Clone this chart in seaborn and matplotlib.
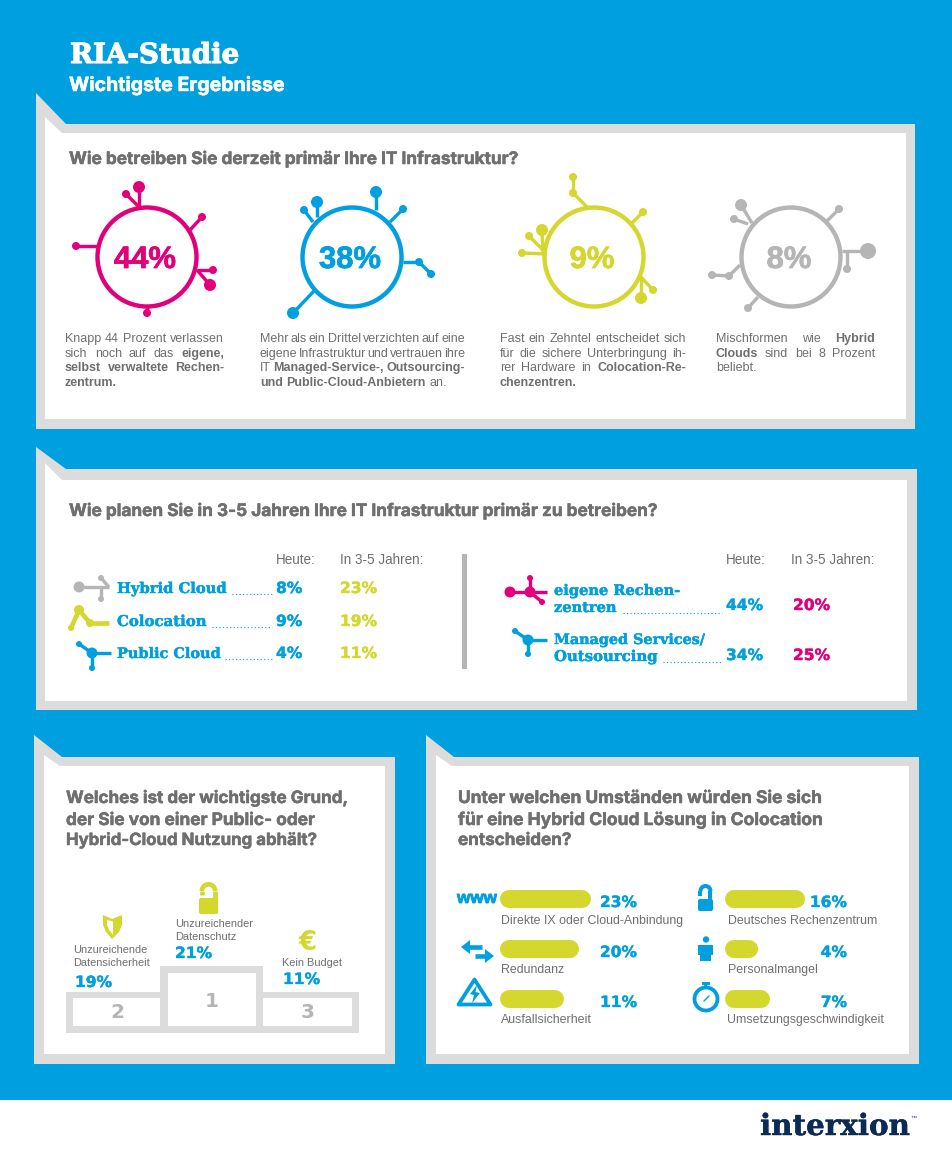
import matplotlib
matplotlib.use('Agg')
import matplotlib.pyplot as plt
import matplotlib.patheffects as pe
from matplotlib.patches import Polygon, Rectangle, Circle, Arc, FancyBboxPatch
import pandas as pd
import seaborn as sns

BLUE = '#009fe0'
FRAME = '#dcdcdc'
TEXT = '#6f6f6f'
PINK = '#e2007a'
LIME = '#d4d72e'
GREY = '#b5b5b5'
NAVY = '#0b2a55'

SANS = 'Liberation Sans'
HEAD = 'Inter'
SLAB = 'DejaVu Serif'
WIDE = 'DejaVu Sans'

# panel 1: share per operating model
ring_values = ['44%', '38%', '9%', '8%']
ring_colors = [PINK, BLUE, LIME, GREY]
# a leading * marks a bold word
ring_texts = [
    ['Knapp 44 Prozent verlassen', 'sich noch auf das *eigene,', '*selbst *verwaltete *Rechen-', '*zentrum.'],
    ['Mehr als ein Drittel verzichten auf eine', 'eigene Infrastruktur und vertrauen ihre',
     'IT *Managed-Service-, *Outsourcing-', '*und *Public-Cloud-Anbietern an.'],
    ['Fast ein Zehntel entscheidet sich', 'für die sichere Unterbringung ih-',
     'rer Hardware in *Colocation-Re-', '*chenzentren.'],
    ['Mischformen wie *Hybrid', '*Clouds sind bei 8 Prozent', 'beliebt.'],
]

# panel 2: today vs. in 3-5 years
left_rows = ['Hybrid Cloud', 'Colocation', 'Public Cloud']
left_today = ['8%', '9%', '4%']
left_future = ['23%', '19%', '11%']
right_rows = [['eigene Rechen-', 'zentren'], ['Managed Services/', 'Outsourcing']]
right_today = ['44%', '34%']
right_future = ['20%', '25%']

# panel 3: podium
podium_places = ['2', '1', '3']
podium_labels = [['Unzureichende', 'Datensicherheit'], ['Unzureichender', 'Datenschutz'], ['Kein Budget']]
podium_values = ['19%', '21%', '11%']

# panel 4: bars, lengths as drawn in the picture
bar_labels = ['Direkte IX oder Cloud-Anbindung', 'Redundanz', 'Ausfallsicherheit',
              'Deutsches Rechenzentrum', 'Personalmangel', 'Umsetzungsgeschwindigkeit']
bar_percent = ['23%', '20%', '11%', '16%', '4%', '7%']
bar_lengths = [91, 79, 64, 80, 33, 45]

sns.set_theme(style='white')
plt.rcParams['font.family'] = [SANS, 'DejaVu Sans']

fig = plt.figure(figsize=(9.53, 11.57), dpi=100)
ax = fig.add_axes([0, 0, 1, 1])
ax.set_xlim(0, 953)
ax.set_ylim(1157, 0)
ax.set_axis_off()
renderer = fig.canvas.get_renderer()


def pts(px):
    return px * 0.72


def label(x, y, s, size, color=TEXT, family=SANS, weight='normal', ha='left', width=None, heavy=0):
    t = ax.text(x, y, s, fontsize=pts(size), color=color, family=family, weight=weight,
                ha=ha, va='baseline', zorder=10)
    if width is not None:
        t.set_fontsize(t.get_fontsize() * width / t.get_window_extent(renderer).width)
    if heavy:
        t.set_path_effects([pe.withStroke(linewidth=heavy, foreground=color)])
    return t


def paragraph(x, y, lines, width, size=12.5, leading=14.6):
    for i, line in enumerate(lines):
        items = []
        for w in line.split(' '):
            bold = w.startswith('*')
            items.append(label(x, y + i * leading, w.lstrip('*'), size,
                               weight='bold' if bold else 'normal'))
        widths = [t.get_window_extent(renderer).width for t in items]
        gap = 3.4
        if i < len(lines) - 1 and len(items) > 1:
            gap = (width - sum(widths)) / (len(items) - 1)
        cx = x
        for t, w in zip(items, widths):
            t.set_x(cx)
            cx += w + gap


def panel(tip_x, tip_y, notch_x, notch_y, right, bottom, in_left, in_tip, in_nx, in_ny, in_right, in_bottom):
    ax.add_patch(Polygon([(tip_x, tip_y), (notch_x, notch_y), (right, notch_y), (right, bottom), (tip_x, bottom)],
                         color=FRAME, lw=0, zorder=1))
    ax.add_patch(Polygon([(in_left, in_tip), (in_nx, in_ny), (in_right, in_ny), (in_right, in_bottom), (in_left, in_bottom)],
                         color='white', lw=0, zorder=2))


def branches(segs, color, lw=3.4):
    # every segment: x0, y0, x1, y1, radius of the node at its end
    for x0, y0, x1, y1, r in segs:
        ax.plot([x0, x1], [y0, y1], color=color, lw=pts(lw), solid_capstyle='butt', zorder=4)
        if r:
            ax.add_patch(Circle((x1, y1), r, color=color, lw=0, zorder=5))


def leader(x0, x1, y):
    ax.plot([x0, x1], [y, y], color=BLUE, lw=pts(1.1), ls=(0, (1, 2.2)), zorder=4)


def lock(x, y, w, h, top, color, stroke):
    ax.add_patch(FancyBboxPatch((x + 2, y + 2), w - 4, h - 4, boxstyle='round,pad=2', color=color, lw=0, zorder=5))
    cx = x + w / 2
    rad = w / 2 - stroke / 2 - 0.5
    ax.add_patch(Arc((cx, top + rad + stroke / 2), 2 * rad, 2 * rad, theta1=180, theta2=360, color=color,
                     lw=pts(stroke), zorder=5))
    ax.plot([cx + rad, cx + rad], [top + rad + stroke / 2, y + 1], color=color, lw=pts(stroke), solid_capstyle='butt', zorder=5)
    ax.plot([cx - rad, cx - rad], [top + rad + stroke / 2, y - 3.5], color=color, lw=pts(stroke), solid_capstyle='butt', zorder=5)


# background
ax.add_patch(Rectangle((0, 0), 953, 1100, color=BLUE, lw=0, zorder=0))
ax.add_patch(Rectangle((0, 1100), 953, 57, color='white', lw=0, zorder=0))
ax.add_patch(Rectangle((952, 0), 1, 1157, color='#c8c8c8', lw=0, zorder=0.5))

label(70, 63, 'RIA-Studie', 30, color='white', family=SLAB, weight='bold', width=169, heavy=0.8)
label(69, 91, 'Wichtigste Ergebnisse', 18, color='white', family=HEAD, weight='bold', width=216, heavy=0.35)

panel(36, 93, 66, 124, 915, 429, 45, 117, 62, 133, 906, 419)
panel(36, 447, 66, 469, 917, 710, 45, 463, 62, 480, 907, 701)
panel(34, 735, 62, 757, 395, 1064, 44, 755, 60, 766, 385, 1054)
panel(426, 735, 454, 757, 919, 1064, 436, 755, 452, 766, 909, 1054)

# panel 1
label(69, 164, 'Wie betreiben Sie derzeit primär Ihre IT Infrastruktur?', 17, family=HEAD, weight='bold', width=447, heavy=0.35)

ring_x = [147, 352, 594, 791]
ring_branches = [
    [(139, 207, 139, 187, 6), (139, 207, 126, 194, 4), (190, 230, 202, 217, 4), (98, 246, 76, 246, 4),
     (197, 270, 213, 270, 4), (197, 270, 210, 285, 6), (147, 306, 147, 313, 4)],
    [(376, 210, 376, 192, 6), (317, 217, 317, 202, 6), (313, 222, 304, 210, 4), (390, 222, 403, 209, 4),
     (403, 262, 419, 262, 4), (419, 262, 431, 274, 4), (315, 290, 293, 313, 6)],
    [(587, 207, 573, 193, 4), (573, 193, 573, 177, 4), (632, 223, 643, 212, 4), (547, 254, 522, 253, 4),
     (543, 252, 542, 230, 6), (543, 250, 529, 236, 4), (641, 277, 641, 298, 6), (641, 277, 653, 290, 4)],
    [(752, 223, 741, 205, 6), (748, 224, 734, 219, 4), (827, 221, 839, 209, 4), (842, 251, 868, 251, 8),
     (847, 251, 847, 269, 4), (740, 265, 729, 276, 4), (729, 276, 712, 275, 4), (758, 297, 748, 308, 4)],
]
para_x = [65, 260, 500, 716]
para_w = [159, 205, 186, 159]

for i, cx in enumerate(ring_x):
    col = ring_colors[i]
    ax.add_patch(Circle((cx, 257), 49.5, fill=False, edgecolor=col, lw=pts(4.4), zorder=6))
    branches(ring_branches[i], col)
    label(cx - 2, 268, ring_values[i], 31, color=col, weight='bold', ha='center', heavy=0.5)
    paragraph(para_x[i], 342, ring_texts[i], para_w[i])

# panel 2
label(69, 516, 'Wie planen Sie in 3-5 Jahren Ihre IT Infrastruktur primär zu betreiben?', 17, family=HEAD, weight='bold', width=586, heavy=0.35)
ax.add_patch(Rectangle((462, 554), 5.5, 115, color=GREY, lw=0, zorder=3))
for x_h, x_f in [(276, 340), (726, 791)]:
    label(x_h, 564, 'Heute:', 13.5)
    label(x_f, 564, 'In 3-5 Jahren:', 13.5)

left_base = [593, 626, 658]
left_lead = [232, 212, 225]
left_widths = [110, 90, 104]
for i, name in enumerate(left_rows):
    label(117, left_base[i], name, 17, color=BLUE, family=SLAB, weight='bold', width=left_widths[i], heavy=0.3)
    leader(left_lead[i], 272, left_base[i] + 0.5)
    label(276, left_base[i], left_today[i], 15.5, color=BLUE, family=WIDE, weight='bold', heavy=0.25)
    label(340, left_base[i], left_future[i], 15.5, color=LIME, family=WIDE, weight='bold', heavy=0.25)

right_base = [(595, 612), (644, 661)]
right_widths = [(127, 63), (152, 104)]
right_lead = [(623, 722), (663, 722)]
right_pct = [610, 660]
for i, lines in enumerate(right_rows):
    for j, s in enumerate(lines):
        label(554, right_base[i][j], s, 17, color=BLUE, family=SLAB, weight='bold', width=right_widths[i][j], heavy=0.3)
    leader(right_lead[i][0], right_lead[i][1], right_base[i][1] + 0.5)
    label(726, right_pct[i], right_today[i], 15.5, color=BLUE, family=WIDE, weight='bold', heavy=0.25)
    label(793, right_pct[i], right_future[i], 15.5, color=PINK, family=WIDE, weight='bold', heavy=0.25)

branches([(79, 587, 109, 587, 0), (101, 578, 109, 587, 0), (101, 587, 101, 599, 3)], GREY)
ax.add_patch(Circle((79, 587), 5.5, color=GREY, lw=0, zorder=5))
ax.add_patch(Circle((101, 578), 3, color=GREY, lw=0, zorder=5))
branches([(79, 610, 71, 628, 3), (79, 610, 90, 623, 4), (90, 623, 109, 623, 0)], LIME, lw=4.6)
ax.add_patch(Circle((79, 610), 5, color=LIME, lw=0, zorder=5))
branches([(92, 653, 79, 644, 3), (92, 653, 111, 653, 0), (92, 653, 92, 668, 3)], BLUE)
ax.add_patch(Circle((92, 653), 5.5, color=BLUE, lw=0, zorder=5))
branches([(510, 592, 547, 592, 0), (530, 592, 530, 578, 3), (530, 592, 542, 602, 3)], PINK)
ax.add_patch(Circle((510, 592), 5.5, color=PINK, lw=0, zorder=5))
ax.add_patch(Circle((530, 592), 5.5, color=PINK, lw=0, zorder=5))
branches([(528, 640, 515, 631, 3), (528, 640, 547, 640, 0), (528, 640, 528, 654, 3)], BLUE)
ax.add_patch(Circle((528, 640), 5.5, color=BLUE, lw=0, zorder=5))

# panel 3
q3 = ['Welches ist der wichtigste Grund,', 'der Sie von einer Public- oder', 'Hybrid-Cloud Nutzung abhält?']
q3_widths = [281, 248, 250]
for i, s in enumerate(q3):
    label(66, [803, 825, 845][i], s, 17, family=HEAD, weight='bold', width=q3_widths[i], heavy=0.35)

ax.add_patch(Rectangle((66, 992), 293, 41, color=FRAME, lw=0, zorder=3))
ax.add_patch(Rectangle((160, 966), 103, 40, color=FRAME, lw=0, zorder=3))
ax.add_patch(Rectangle((73, 998), 87, 28, color='white', lw=0, zorder=4))
ax.add_patch(Rectangle((168, 973), 88, 53, color='white', lw=0, zorder=4))
ax.add_patch(Rectangle((263, 998), 89, 28, color='white', lw=0, zorder=4))

place_x = [117, 212, 308]
place_y = [1018, 1007, 1018]
label_x = [73, 175, 282]
label_y = [953, 927, 966]
value_x = [75, 175, 283]
value_y = [987, 958, 984]
for i in range(3):
    label(place_x[i], place_y[i], podium_places[i], 20, color=GREY, family=WIDE, weight='bold', ha='center')
    for j, s in enumerate(podium_labels[i]):
        label(label_x[i], label_y[i] + j * 12.5, s, 11)
    label(value_x[i], value_y[i], podium_values[i], 15.5, color=BLUE, family=WIDE, weight='bold', heavy=0.25)

lock(199, 898, 19, 16, 882, LIME, 4.6)
ax.add_patch(Polygon([(103, 915), (112, 919), (122, 915), (122, 925), (119, 932), (112, 939), (106, 932), (103, 925)],
                     color=LIME, lw=0, zorder=5))
ax.add_patch(Polygon([(107, 920), (113, 921.5), (113, 935), (109, 930), (107, 925)], color='white', lw=0, zorder=6))
label(308, 950, '€', 26, color=LIME, family=WIDE, weight='bold', ha='center')

# panel 4
q4 = ['Unter welchen Umständen würden Sie sich', 'für eine Hybrid Cloud Lösung in Colocation', 'entscheiden?']
q4_widths = [363, 363, 113]
for i, s in enumerate(q4):
    label(458, [803, 825, 845][i], s, 17, family=HEAD, weight='bold', width=q4_widths[i], heavy=0.35)

bar_x = [500, 500, 500, 725, 725, 725]
bar_y = [899, 949, 999, 899, 949, 999]
pct_x = [637, 637, 637, 847, 847, 847]
cap_x = [501, 501, 501, 728, 728, 727]
cap_y = [924, 973, 1023, 924, 973, 1023]
cap = 9
bars = pd.DataFrame({
    'bar': bar_labels * 2,
    'x': [x + cap for x in bar_x] + [x + n - cap for x, n in zip(bar_x, bar_lengths)],
    'y': bar_y * 2,
})
sns.lineplot(data=bars, x='x', y='y', units='bar', estimator=None, sort=False, color=LIME, legend=False,
             linewidth=pts(18), solid_capstyle='round', ax=ax, zorder=5)
for i, s in enumerate(bar_labels):
    label(cap_x[i], cap_y[i], s, 12.4)
    label(pct_x[i], bar_y[i] + 8, bar_percent[i], 15.5, color=BLUE, family=WIDE, weight='bold', ha='right', heavy=0.25)

label(457, 903, 'www', 17, color=BLUE, weight='bold', width=40, heavy=0.6)
lock(698, 899, 15, 12, 884, BLUE, 4)

# arrows
ax.plot([466, 482], [947, 947], color=BLUE, lw=pts(4.6), solid_capstyle='butt', zorder=5)
ax.add_patch(Polygon([(461, 947), (470, 940), (470, 954)], color=BLUE, lw=0, joinstyle='round', zorder=5))
ax.plot([475, 488], [956, 956], color=BLUE, lw=pts(4.6), solid_capstyle='butt', zorder=5)
ax.add_patch(Polygon([(494, 956), (485, 949), (485, 963)], color=BLUE, lw=0, joinstyle='round', zorder=5))

# warning triangle
ax.add_patch(Polygon([(474.5, 979.5), (490.5, 1004.5), (458.5, 1004.5)], closed=True, facecolor='white', edgecolor=BLUE,
                     lw=pts(3.8), joinstyle='round', zorder=5))
ax.add_patch(Polygon([(477, 985), (470, 994), (474, 995), (472, 1003), (480, 993), (475.5, 992)], color=BLUE, lw=0, zorder=6))

# person
ax.add_patch(Circle((706, 939.5), 3.2, color=BLUE, lw=0, zorder=5))
ax.add_patch(Polygon([(698, 945), (713, 945), (713, 955), (711, 955), (711, 961), (700, 961), (700, 955), (698, 955)],
                     color=BLUE, lw=0, zorder=5))

# stopwatch
ax.add_patch(Circle((706, 999), 11.5, fill=False, edgecolor=BLUE, lw=pts(3.8), zorder=5))
ax.add_patch(Rectangle((704.5, 984), 3, 5, color=BLUE, lw=0, zorder=5))
ax.add_patch(Rectangle((702, 981.5), 8, 3, color=BLUE, lw=0, zorder=5))
ax.plot([704, 709], [1001, 996], color=BLUE, lw=pts(1.4), zorder=5)

# logo
label(760, 1135, 'interxion', 36, color=NAVY, family=SLAB, weight='bold', width=150, heavy=0.3)
label(910, 1120, '™', 6, color=NAVY)

ax.set_xlabel('')
ax.set_ylabel('')
ax.set_xlim(0, 953)
ax.set_ylim(1157, 0)
fig.savefig('out.png', dpi=100)
